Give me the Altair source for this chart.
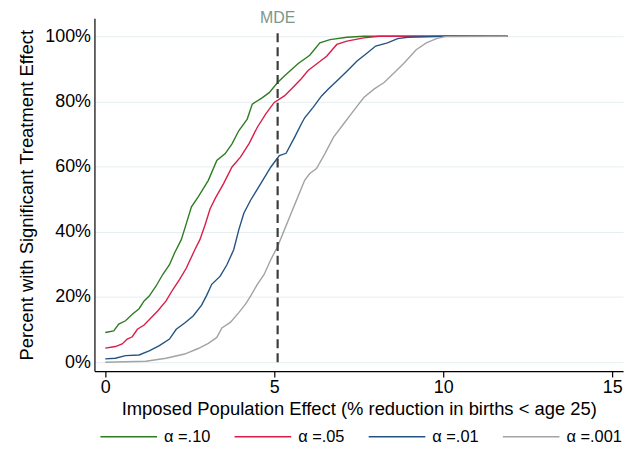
import altair as alt
import pandas as pd

# ---------------- data ----------------
series_labels = ["α =.10", "α =.05", "α =.01", "α =.001"]
series_colors = ["#2e7d22", "#d81e4a", "#245383", "#a3a3a3"]

green_x = [0.0, 0.25, 0.4, 0.6, 0.8, 1.0, 1.15, 1.3, 1.5, 1.7, 1.9, 2.05, 2.25, 2.4, 2.55,
           2.75, 3.05, 3.3, 3.55, 3.75, 3.95, 4.2, 4.35, 4.65, 4.85, 5.1, 5.3, 5.7, 6.05,
           6.35, 6.65, 7.15, 7.65, 11.9]
green_y = [9.1, 9.6, 11.7, 12.7, 14.7, 16.4, 18.8, 20.3, 23.3, 26.9, 29.9, 33.5, 37.6, 42.6, 47.7,
           50.7, 55.8, 61.9, 64.0, 67.0, 71.0, 74.6, 79.2, 81.2, 82.7, 85.8, 87.8, 91.6, 94.2,
           98.0, 99.0, 99.7, 100.0, 100.0]

red_x = [0.0, 0.3, 0.5, 0.65, 0.8, 0.95, 1.15, 1.3, 1.55, 1.8, 2.0, 2.2, 2.4, 2.65, 2.8, 2.95,
         3.1, 3.25, 3.5, 3.75, 4.0, 4.25, 4.5, 4.75, 5.0, 5.3, 5.55, 5.8, 6.0, 6.3, 6.55, 6.85,
         7.15, 7.65, 8.1, 11.9]
red_y = [4.3, 4.8, 5.6, 7.1, 7.8, 10.1, 11.4, 13.0, 15.7, 18.8, 22.3, 25.4, 28.9, 34.5, 37.6, 42.0,
         47.0, 50.2, 54.8, 59.9, 62.9, 67.0, 72.1, 76.2, 79.7, 81.7, 84.3, 87.0, 89.5, 91.9, 93.9, 97.5,
         98.5, 99.5, 100.0, 100.0]

blue_x = [0.0, 0.3, 0.6, 1.0, 1.3, 1.6, 1.9, 2.1, 2.35, 2.6, 2.85, 3.0, 3.15, 3.4, 3.6, 3.8, 3.95,
          4.1, 4.3, 4.6, 4.9, 5.15, 5.35, 5.6, 5.8, 5.9, 6.15, 6.4, 6.6, 6.85, 7.15, 7.45, 7.75,
          8.0, 8.35, 8.65, 8.95, 10.1, 11.9]
blue_y = [1.0, 1.2, 2.0, 2.2, 3.5, 5.1, 7.1, 10.1, 12.0, 14.2, 17.5, 20.5, 23.9, 26.4, 29.9, 34.5, 40.6,
          45.7, 49.7, 54.8, 59.9, 63.4, 64.1, 69.0, 73.1, 75.0, 78.2, 81.7, 83.8, 86.3, 89.3, 92.4, 94.9,
          97.0, 98.0, 99.3, 99.7, 100.0, 100.0]

gray_x = [0.0, 1.2, 1.8, 2.35, 2.75, 3.05, 3.3, 3.45, 3.7, 3.95, 4.15, 4.3, 4.5, 4.7, 4.9, 5.1, 5.3,
          5.5, 5.65, 5.9, 6.05, 6.25, 6.5, 6.75, 7.05, 7.35, 7.65, 7.95, 8.25, 8.55, 8.85, 9.2, 9.5,
          9.8, 10.05, 11.9]
gray_y = [0.0, 0.3, 1.2, 2.5, 4.2, 5.8, 7.6, 10.5, 12.2, 15.2, 17.8, 20.3, 23.9, 26.9, 31.5, 35.5, 40.6,
          45.7, 49.5, 55.8, 57.9, 59.4, 64.0, 69.0, 73.1, 77.2, 81.2, 83.8, 85.8, 88.8, 91.9, 95.9, 98.0,
          99.3, 99.9, 100.0]

mde_x = [5.1]
mde_bottom = [0.0]
mde_top = [102.4]
mde_label_y = [105.6]
mde_label = ["MDE"]

x_ticks = [0, 5, 10, 15]
y_ticks = [0, 20, 40, 60, 80, 100]

x_title = "Imposed Population Effect (% reduction in births < age 25)"
y_title = "Percent with Significant Treatment Effect"

# ---------------- tables ----------------
rows = []
for lab, xs, ys in zip(series_labels,
                       [green_x, red_x, blue_x, gray_x],
                       [green_y, red_y, blue_y, gray_y]):
    for xv, yv in zip(xs, ys):
        rows.append({"series": lab, "x": xv, "y": yv})
df = pd.DataFrame(rows)

mde_df = pd.DataFrame({"x": mde_x, "y0": mde_bottom, "y1": mde_top,
                       "ly": mde_label_y, "label": mde_label})

FONT = "Liberation Sans"
xscale = alt.Scale(domain=[-0.32, 15.32], nice=False, zero=False)
yscale = alt.Scale(domain=[-2.74, 105.5], nice=False, zero=False)

lines = alt.Chart(df).mark_line(strokeWidth=1.4).encode(
    x=alt.X("x:Q", scale=xscale,
            axis=alt.Axis(values=x_ticks, title=x_title, grid=False,
                          domainColor="black", domainWidth=1.2,
                          tickColor="black", tickSize=6, tickWidth=1.2,
                          labelFont=FONT, labelFontSize=18, labelColor="black",
                          labelPadding=2, labelFlush=False,
                          titleFont=FONT, titleFontSize=18.5, titleFontWeight="normal",
                          titleColor="black", titlePadding=3)),
    y=alt.Y("y:Q", scale=yscale,
            axis=alt.Axis(values=y_ticks, title=y_title, grid=True,
                          gridColor="#e6eef1", gridWidth=1,
                          labelExpr="datum.value + '%'",
                          domainColor="black", domainWidth=1.2,
                          ticks=False, labelPadding=4,
                          labelFont=FONT, labelFontSize=18, labelColor="black",
                          labelFlush=False,
                          titleFont=FONT, titleFontSize=18.5, titleFontWeight="normal",
                          titleColor="black", titlePadding=8)),
    color=alt.Color("series:N",
                    scale=alt.Scale(domain=series_labels, range=series_colors),
                    legend=alt.Legend(title=None, orient="none", legendX=5, legendY=391.5,
                                      direction="horizontal", symbolType="stroke",
                                      symbolSize=3249, symbolStrokeWidth=1.5,
                                      labelFont=FONT, labelFontSize=16.5, labelColor="black",
                                      labelOffset=6, columnPadding=12, gridAlign="all",
                                      padding=0)),
)

rule = alt.Chart(mde_df).mark_rule(color="#3c3c3c", strokeWidth=2.2, strokeDash=[9, 5]).encode(
    x=alt.X("x:Q", scale=xscale),
    y=alt.Y("y0:Q", scale=yscale),
    y2="y1:Q",
)

label = alt.Chart(mde_df).mark_text(font=FONT, fontSize=16, color="#7c978a",
                                    baseline="middle", align="center").encode(
    x=alt.X("x:Q", scale=xscale),
    y=alt.Y("ly:Q", scale=yscale),
    text="label:N",
)

chart = alt.layer(lines, rule, label).properties(
    width=532, height=355,
    padding={"left": 87, "top": 9, "right": 8, "bottom": 85},
    autosize=alt.AutoSizeParams(type="none"),
    background="white",
).configure_view(stroke="transparent")

chart.save("out.html", embed_options={"renderer": "svg", "actions": False})
